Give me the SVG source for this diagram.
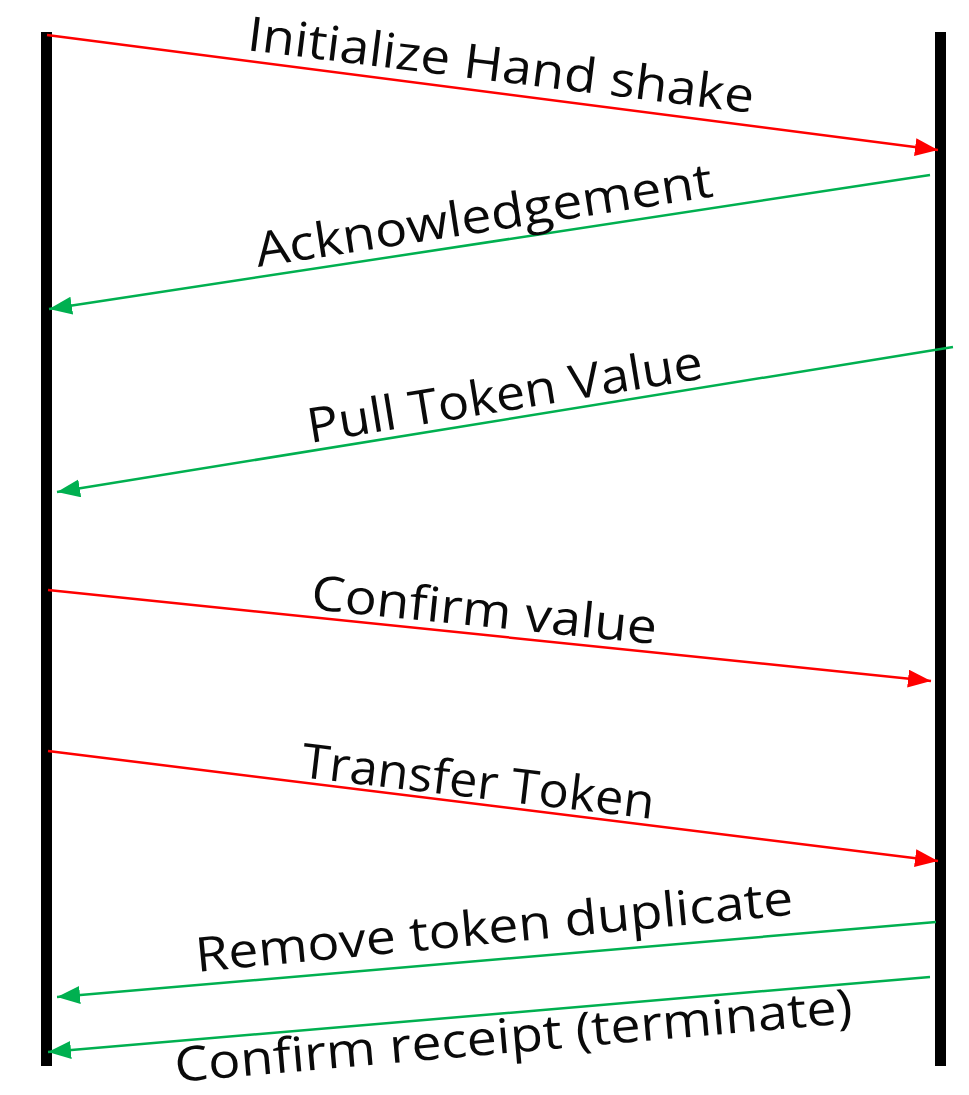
<svg xmlns="http://www.w3.org/2000/svg" width="969" height="1095" viewBox="0 0 969 1095">
  <style>
    .lifeline { fill: #000000; }
    .msg { fill: none; stroke-width: 2.5; }
    .req { stroke: #ff0000; }
    .ack { stroke: #00b050; }
    .label { font-family: "Open Sans", "Noto Sans", sans-serif; font-size: 48px; fill: #0a0a0a; }
  </style>
  <defs>
    <marker id="head-red" markerUnits="userSpaceOnUse" markerWidth="26" markerHeight="20" refX="23" refY="9" orient="auto">
      <path d="M0,0 L23,9 L0,18 z" fill="#ff0000"/>
    </marker>
    <marker id="head-green" markerUnits="userSpaceOnUse" markerWidth="26" markerHeight="20" refX="23" refY="9" orient="auto">
      <path d="M0,0 L23,9 L0,18 z" fill="#00b050"/>
    </marker>
  </defs>

  <!-- two participants as vertical lifelines -->
  <g id="participant-left">
    <rect class="lifeline" x="41" y="32" width="11" height="1034"/>
  </g>
  <g id="participant-right">
    <rect class="lifeline" x="935" y="32" width="11" height="1034"/>
  </g>

  <!-- messages -->
  <g id="connectors">
    <line class="msg req" x1="47" y1="35" x2="938" y2="150" marker-end="url(#head-red)"/>
    <line class="msg ack" x1="930" y1="175" x2="49" y2="309" marker-end="url(#head-green)"/>
    <line class="msg ack" x1="953" y1="347" x2="57" y2="492" marker-end="url(#head-green)"/>
    <line class="msg req" x1="48" y1="590" x2="931" y2="681" marker-end="url(#head-red)"/>
    <line class="msg req" x1="48" y1="751" x2="938" y2="861" marker-end="url(#head-red)"/>
    <line class="msg ack" x1="936" y1="922" x2="57" y2="997" marker-end="url(#head-green)"/>
    <line class="msg ack" x1="930" y1="977" x2="48" y2="1052" marker-end="url(#head-green)"/>
  </g>

  <!-- message labels -->
  <g id="labels">
    <text class="label" transform="translate(246,50) rotate(7.1)" textLength="510" lengthAdjust="spacingAndGlyphs">Initialize Hand shake</text>
    <text class="label" transform="translate(258,267) rotate(-8.8)" textLength="462" lengthAdjust="spacingAndGlyphs">Acknowledgement</text>
    <text class="label" transform="translate(310,443) rotate(-9.3)" textLength="400" lengthAdjust="spacingAndGlyphs">Pull Token Value</text>
    <text class="label" transform="translate(310,609) rotate(5.8)" textLength="347" lengthAdjust="spacingAndGlyphs">Confirm value</text>
    <text class="label" transform="translate(300,777) rotate(6.8)" textLength="355" lengthAdjust="spacingAndGlyphs">Transfer Token</text>
    <text class="label" transform="translate(197,972) rotate(-5.5)" textLength="600" lengthAdjust="spacingAndGlyphs">Remove token duplicate</text>
    <text class="label" transform="translate(176,1082) rotate(-5)" textLength="680" lengthAdjust="spacingAndGlyphs">Confirm receipt (terminate)</text>
  </g>
</svg>
